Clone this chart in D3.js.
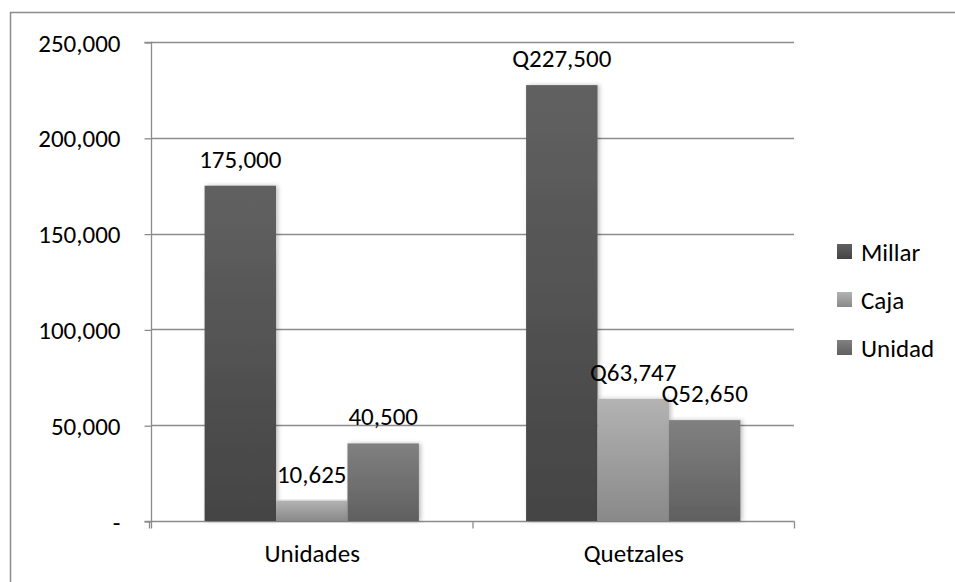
<!DOCTYPE html>
<html>
<head>
<meta charset="utf-8">
<script src="https://cdn.jsdelivr.net/npm/d3@7"></script>
<style>
  html, body { margin: 0; padding: 0; background: #fff; }
  svg text { font-family: Carlito, Lato, "Open Sans", sans-serif; fill: #000; }
</style>
</head>
<body>
<svg id="chart" width="955" height="582"></svg>
<script>
// Sales summary: units sold and revenue in quetzales, per presentation
const categories = ["Unidades", "Quetzales"];
const seriesNames = ["Millar", "Caja", "Unidad"];
const millarValues = [175000, 227500];
const cajaValues = [10625, 63747];
const unidadValues = [40500, 52650];
const valueLabels = [
  ["175,000", "10,625", "40,500"],
  ["Q227,500", "Q63,747", "Q52,650"]
];
const yTicks = [0, 50000, 100000, 150000, 200000, 250000];
const yTickLabels = ["-", "50,000", "100,000", "150,000", "200,000", "250,000"];

const seriesValues = [millarValues, cajaValues, unidadValues];
const seriesGradients = [
  ["#616161", "#444444"],
  ["#b3b3b3", "#898989"],
  ["#808080", "#606060"]
];

const svg = d3.select("#chart");
const margin = { left: 151, right: 794, top: 42, bottom: 521 };
const fontSize = 25;

// Outer frame
svg.append("path")
  .attr("d", "M10.5,582 L10.5,12.5 L955,12.5")
  .attr("fill", "none").attr("stroke", "#8c8c8c").attr("stroke-width", 1.5);

const defs = svg.append("defs");
seriesGradients.forEach((g, i) => {
  const lg = defs.append("linearGradient").attr("id", "grad" + i)
    .attr("x1", 0).attr("y1", 0).attr("x2", 0).attr("y2", 1);
  lg.append("stop").attr("offset", "0%").attr("stop-color", g[0]);
  lg.append("stop").attr("offset", "100%").attr("stop-color", g[1]);
});
const shadow = defs.append("filter").attr("id", "shadow")
  .attr("x", "-10%").attr("y", "-5%").attr("width", "130%").attr("height", "110%");
shadow.append("feDropShadow").attr("dx", 2).attr("dy", 0).attr("stdDeviation", 2)
  .attr("flood-color", "#000").attr("flood-opacity", 0.25);

const y = d3.scaleLinear().domain([0, 250000]).range([margin.bottom, margin.top]);
const x0 = d3.scaleBand().domain(categories).range([margin.left, margin.right])
  .paddingInner(0).paddingOuter(0);
// Group occupies 3 bars out of a 4.5-bar band (gap width 150%)
const barW = x0.bandwidth() / 4.5;
const x1 = d3.scaleBand().domain(seriesNames)
  .range([0.75 * barW, 3.75 * barW]).padding(0);

// Gridlines
svg.append("g")
  .selectAll("line").data(yTicks.slice(1)).join("line")
  .attr("x1", margin.left).attr("x2", margin.right)
  .attr("y1", d => Math.round(y(d)) + 0.5).attr("y2", d => Math.round(y(d)) + 0.5)
  .attr("stroke", "#8c8c8c").attr("stroke-width", 1.3);

// Y axis
const yAxis = d3.axisLeft(y).tickValues(yTicks)
  .tickFormat((d, i) => yTickLabels[i]).tickSize(7).tickPadding(24);
const gy = svg.append("g").attr("transform", `translate(${margin.left + 0.5},0.5)`).call(yAxis);
gy.select(".domain").attr("stroke", "#8c8c8c").attr("stroke-width", 1.3)
  .attr("d", `M-7,${margin.top}H0V${margin.bottom + 7}`);
gy.selectAll(".tick line").attr("stroke", "#8c8c8c").attr("stroke-width", 1.3);
gy.selectAll(".tick text").attr("font-size", fontSize).attr("dy", "0.34em")
  .style("font-family", "Carlito, Lato, sans-serif");

// X axis
const gx = svg.append("g").attr("transform", `translate(0.5,${margin.bottom + 0.5})`);
gx.append("line").attr("x1", margin.left - 7).attr("x2", margin.right)
  .attr("stroke", "#8c8c8c").attr("stroke-width", 1.3);
const boundaries = [margin.left - 2].concat(categories.map(c => x0(c) + x0.bandwidth()));
gx.selectAll(".xt").data(boundaries).join("line").attr("class", "xt")
  .attr("x1", d => d).attr("x2", d => d).attr("y1", 0).attr("y2", 7)
  .attr("stroke", "#8c8c8c").attr("stroke-width", 1.3);
gx.selectAll(".xl").data(categories).join("text").attr("class", "xl")
  .attr("x", d => x0(d) + x0.bandwidth() / 2).attr("y", 40)
  .attr("text-anchor", "middle").attr("font-size", fontSize).text(d => d);

// Bars
const bars = [];
categories.forEach((c, ci) => {
  seriesNames.forEach((s, si) => {
    bars.push({ cat: c, ser: s, si, ci, value: seriesValues[si][ci], label: valueLabels[ci][si] });
  });
});
svg.append("g").selectAll("rect").data(bars).join("rect")
  .attr("x", d => x0(d.cat) + x1(d.ser))
  .attr("y", d => y(d.value))
  .attr("width", x1.bandwidth())
  .attr("height", d => y(0) - y(d.value))
  .attr("fill", d => `url(#grad${d.si})`)
  .attr("filter", "url(#shadow)");

// Value labels
svg.append("g").selectAll("text").data(bars).join("text")
  .attr("x", d => x0(d.cat) + x1(d.ser) + x1.bandwidth() / 2)
  .attr("y", d => y(d.value) - 18)
  .attr("text-anchor", "middle").attr("font-size", fontSize).text(d => d.label);

// Legend
const legend = svg.append("g").attr("transform", "translate(837,244)");
seriesNames.forEach((s, i) => {
  const g = legend.append("g").attr("transform", `translate(0,${i * 48})`);
  g.append("rect").attr("width", 15).attr("height", 15).attr("fill", `url(#grad${i})`);
  g.append("text").attr("x", 24).attr("y", 8).attr("dy", "0.35em")
    .attr("font-size", fontSize).text(s);
});
</script>
</body>
</html>
